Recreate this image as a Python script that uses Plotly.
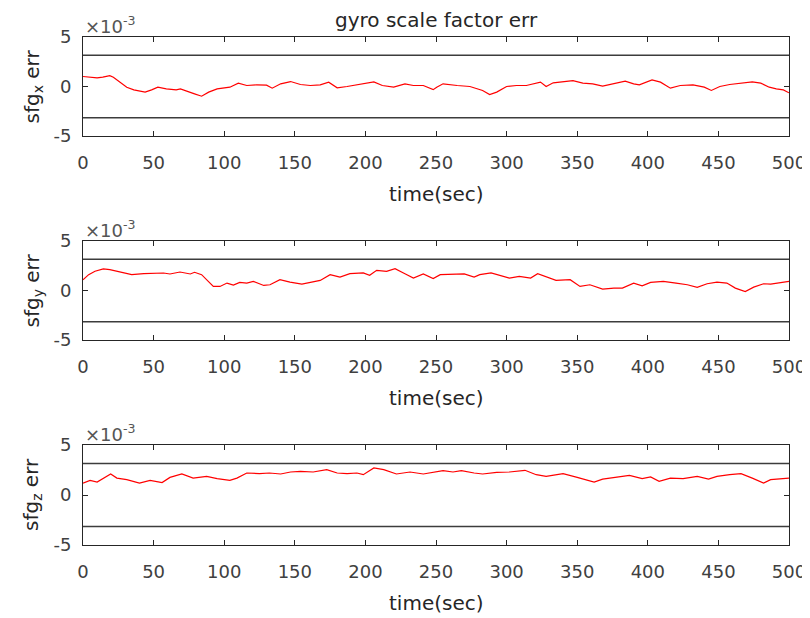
import plotly.graph_objects as go

# values are in units of 1e-3 (axis shows x10^-3)
t_x = [0, 5, 10, 14, 19, 21.5, 26, 31, 36, 44, 48.6, 53, 59, 66, 69, 73, 79, 84, 89, 95,
       99.5, 104, 110, 116, 123, 130, 134, 140, 147, 154, 161, 168, 174, 180, 187, 194, 200, 206, 212, 220,
       228, 234, 241, 248, 250.5, 255, 265, 274, 283, 288, 293, 300, 307, 314, 324, 328, 333, 340, 347, 354,
       361, 368, 375, 384, 390, 394, 403, 409, 416, 423, 432, 440, 445, 451, 458, 466, 474, 480, 486, 491,
       496, 500]
sfg_x = [1.01, 0.94, 0.88, 0.94, 1.1, 0.94, 0.44, -0.07, -0.34, -0.57, -0.34, -0.07, -0.24, -0.34, -0.24, -0.47, -0.74, -0.98, -0.57, -0.24,
         -0.17, -0.07, 0.34, 0.1, 0.17, 0.13, -0.17, 0.27, 0.5, 0.2, 0.1, 0.17, 0.44, -0.13, 0, 0.17, 0.34, 0.47, 0.1, -0.07,
         0.27, 0.1, 0.1, -0.32, -0.07, 0.27, 0.1, 0, -0.4, -0.81, -0.57, 0, 0.1, 0.1, 0.44, 0, 0.37, 0.5, 0.6, 0.34,
         0.27, 0.03, 0.27, 0.54, 0.27, 0.17, 0.67, 0.44, -0.17, 0.1, 0.17, -0.07, -0.4, 0, 0.2, 0.34, 0.47, 0.34, -0.07, -0.24,
         -0.34, -0.64]

t_y = [0, 4, 8.5, 14.4, 19, 26, 34.5, 43, 50, 57, 61.6, 68.7, 76, 79, 84, 89, 92.3, 97, 102, 106.5,
       111, 116, 120.6, 128, 132.4, 139.5, 146.6, 155, 161, 168, 175, 182, 189, 198.5, 203, 208, 215, 221, 228, 234,
       241, 248, 253, 260, 270, 277, 281, 289, 295, 302, 309, 317, 322, 328, 335, 345, 352, 359, 368, 376,
       382, 390, 396, 402, 411, 420, 428, 435, 442, 449, 456, 462, 469, 475, 482, 487, 493, 500]
sfg_y = [1.09, 1.6, 1.94, 2.18, 2.1, 1.87, 1.6, 1.7, 1.7, 1.77, 1.67, 1.87, 1.67, 1.84, 1.6, 0.92, 0.41, 0.41, 0.75, 0.54,
         0.82, 0.75, 0.92, 0.51, 0.58, 1.09, 0.85, 0.65, 0.85, 1.02, 1.6, 1.36, 1.7, 1.77, 1.53, 2.04, 1.94, 2.21, 1.7, 1.26,
         1.67, 1.2, 1.6, 1.6, 1.67, 1.36, 1.6, 1.77, 1.5, 1.26, 1.43, 1.26, 1.7, 1.36, 1.02, 1.09, 0.41, 0.58, 0.14, 0.24,
         0.24, 0.75, 0.48, 0.82, 0.92, 0.75, 0.58, 0.31, 0.68, 0.85, 0.75, 0.24, -0.1, 0.34, 0.68, 0.65, 0.75, 0.92]

t_z = [0, 5, 10, 14.4, 19.6, 24, 31, 40, 47.5, 56, 61.6, 70, 78, 87.6, 95, 104, 109, 116, 125, 132,
       140, 147, 154, 163, 172.6, 180, 187, 194, 198.5, 206, 213, 222, 231.6, 241, 248, 255, 262, 268, 277, 283,
       293, 302, 313, 321, 328, 340, 350, 362, 368, 378, 387, 396, 402, 408, 416, 425, 435, 443, 449, 458,
       466, 474, 482, 487, 493, 500]
sfg_z = [1.19, 1.46, 1.29, 1.69, 2.1, 1.69, 1.53, 1.19, 1.46, 1.25, 1.76, 2.1, 1.69, 1.86, 1.63, 1.46, 1.69, 2.2, 2.14, 2.2,
         2.1, 2.3, 2.37, 2.3, 2.54, 2.2, 2.14, 2.2, 2.03, 2.71, 2.54, 2.1, 2.3, 2.1, 2.25, 2.44, 2.3, 2.44, 2.2, 2.1,
         2.27, 2.3, 2.47, 2.03, 1.86, 2.14, 1.76, 1.29, 1.59, 1.8, 1.97, 1.63, 1.8, 1.36, 1.69, 1.63, 1.86, 1.59, 1.86, 2.03,
         2.14, 1.69, 1.19, 1.53, 1.59, 1.69]

BOUND = 3.15          # bound lines, x1e-3
T_RANGE = [0, 500]
X_TICKS = [0, 50, 100, 150, 200, 250, 300, 350, 400, 450, 500]
Y_TICKS = [-5, 0, 5]
Y_TICKTEXT = ["-5", "0", "5"]
Y_LABELS = ["sfg<sub>x</sub> err", "sfg<sub>y</sub> err", "sfg<sub>z</sub> err"]
TITLE = "gyro scale factor err"

FONT = "DejaVu Sans"
AX_COL = "#262626"
# page body has an 8px margin, so the figure is drawn 8px in from the top-left
FIG_W, FIG_H = 802, 610
X_DOMAIN = [75 / FIG_W, 781 / FIG_W]
Y_DOMAINS = [[1 - 128 / FIG_H, 1 - 29 / FIG_H],
             [1 - 332 / FIG_H, 1 - 233 / FIG_H],
             [1 - 537 / FIG_H, 1 - 437 / FIG_H]]

fig = go.Figure()
series = [(t_x, sfg_x), (t_y, sfg_y), (t_z, sfg_z)]
annotations = []

for i, (t, v) in enumerate(series):
    n = "" if i == 0 else str(i + 1)
    xa, ya = "x" + n, "y" + n
    # bound lines
    for b in (BOUND, -BOUND):
        fig.add_trace(go.Scatter(x=T_RANGE, y=[b, b], mode="lines", xaxis=xa, yaxis=ya,
                                 line=dict(color="#3c3c3c", width=1.6), showlegend=False, hoverinfo="skip"))
    fig.add_trace(go.Scatter(x=t, y=v, mode="lines", xaxis=xa, yaxis=ya,
                             line=dict(color="#ff0000", width=1.2), showlegend=False))

    axis_common = dict(showline=True, linecolor=AX_COL, linewidth=1, mirror="ticks", ticks="inside",
                       ticklen=5, tickcolor=AX_COL, tickwidth=1, showgrid=False, zeroline=False,
                       automargin=False, tickfont=dict(family=FONT, size=18, color="#404040"))
    fig.layout["xaxis" + n] = dict(domain=X_DOMAIN, anchor=ya, range=T_RANGE, tickvals=X_TICKS,
                                   ticklabelstandoff=10, **axis_common)
    fig.layout["yaxis" + n] = dict(domain=Y_DOMAINS[i], anchor=xa, range=[-5, 5], tickvals=Y_TICKS,
                                   ticktext=Y_TICKTEXT, ticklabelstandoff=7, **axis_common)

    dx, dy = xa + " domain", ya + " domain"
    annotations.append(dict(text="time(sec)", xref=dx, yref=dy, x=0.5, y=0, yshift=-58,
                            xanchor="center", yanchor="middle", showarrow=False,
                            font=dict(family=FONT, size=20, color="#262626")))
    annotations.append(dict(text=Y_LABELS[i], xref=dx, yref=dy, x=0, y=0.5, xshift=-51,
                            xanchor="center", yanchor="middle", textangle=-90, showarrow=False,
                            font=dict(family=FONT, size=20, color="#262626")))
    annotations.append(dict(text="×10<sup>-3</sup>", xref=dx, yref=dy, x=0, y=1, yshift=-2, xshift=0,
                            xanchor="left", yanchor="bottom", showarrow=False,
                            font=dict(family=FONT, size=18, color="#555555")))

annotations.append(dict(text=TITLE, xref="x domain", yref="y domain", x=0.5, y=1, yshift=17,
                        xanchor="center", yanchor="middle", showarrow=False,
                        font=dict(family=FONT, size=20, color="#262626")))

fig.update_layout(width=FIG_W, height=FIG_H, margin=dict(l=0, r=0, t=0, b=0),
                  paper_bgcolor="white", plot_bgcolor="white", annotations=annotations)

fig.write_html("out.html")
